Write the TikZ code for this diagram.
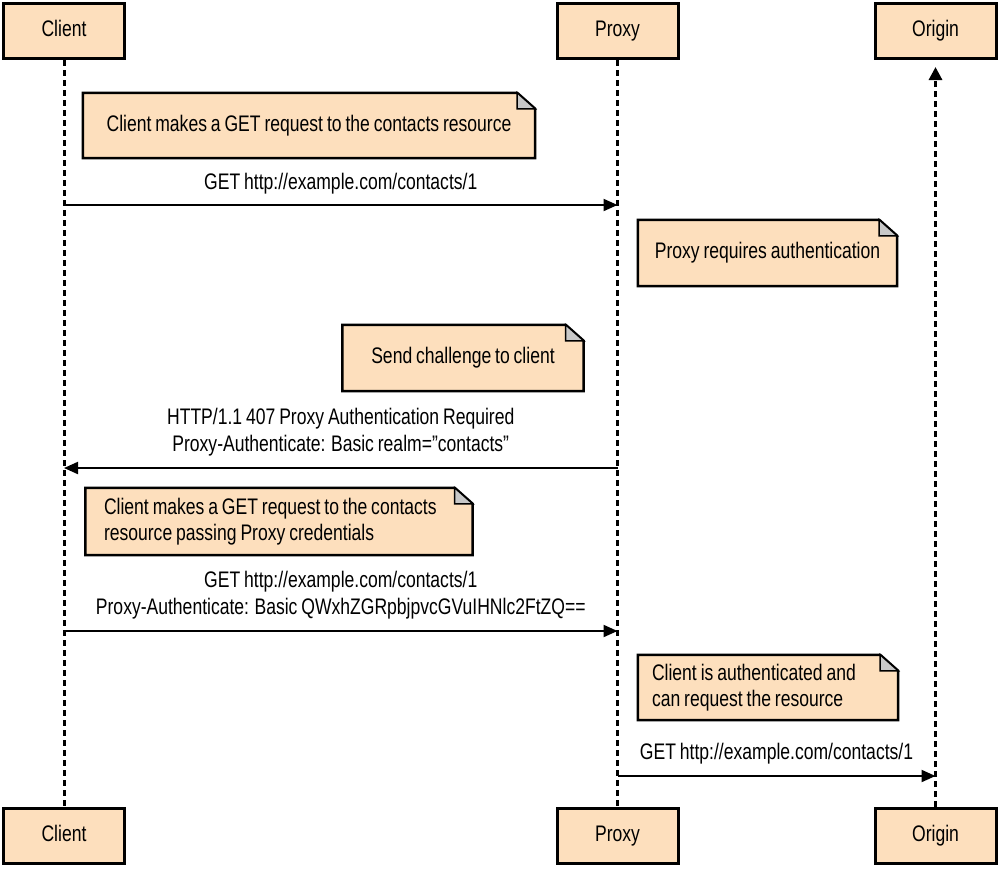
\documentclass[tikz,border=0pt]{standalone}
\usepackage{fontspec}
\setmainfont[FakeStretch=0.78,WordSpace=0.8]{Liberation Sans}
\usetikzlibrary{arrows.meta,backgrounds}
\definecolor{peach}{RGB}{253,223,189}
\definecolor{foldgrey}{RGB}{200,200,200}
\tikzset{
  actor/.style={draw=black, line width=3pt, fill=peach, minimum width=121pt, minimum height=55pt, inner sep=0pt, text height=16pt, text depth=5pt, font=\fontsize{22.5}{26}\selectfont},
  notebox/.style={inner sep=0pt, font=\fontsize{22.5}{26}\selectfont},
  life/.style={line width=3pt, dash pattern=on 6pt off 4pt},
  msg/.style={line width=2pt, -{Triangle[length=14pt,width=12pt]}},
  lbl/.style={font=\fontsize{22.5}{27}\selectfont, align=center, inner sep=0pt},
  noteline/.style={line width=2.5pt, fill=peach, line join=miter},
  foldline/.style={line width=1.5pt, fill=foldgrey, line join=miter},
}
\newcommand\drawnote[1]{%
  \draw[noteline] (#1.north west) -- ([xshift=-18pt]#1.north east) -- ([yshift=-16pt]#1.north east) -- (#1.south east) -- (#1.south west) -- cycle;
  \draw[foldline] ([xshift=-18pt]#1.north east) -- ([xshift=-18pt,yshift=-16pt]#1.north east) -- ([yshift=-16pt]#1.north east) -- cycle;
}
\begin{document}
\begin{tikzpicture}[x=1pt,y=-1pt]
\useasboundingbox (0,0) rectangle (1000,868);
% actors
\node[actor] (CT) at (64,31) {Client};
\node[actor] (PT) at (617.5,31) {Proxy};
\node[actor] (OT) at (935.5,31) {Origin};
\node[actor] (CB) at (64,836) {Client};
\node[actor] (PB) at (617.5,836) {Proxy};
\node[actor] (OB) at (935.5,836) {Origin};
% lifelines
\draw[life] (CT.south) -- (CB.north);
\draw[life] (PT.south) -- (PB.north);
\draw[life, -{Triangle[length=13pt,width=13pt]}, shorten >=7pt] (OB.north) -- (OT.south);
% notes
\node[notebox, minimum width=452pt, minimum height=65pt] (N1) at (309,125.5) {Client makes a GET request to the contacts resource};
\node[notebox, minimum width=259pt, minimum height=66pt] (N2) at (767.5,253) {Proxy requires authentication};
\node[notebox, minimum width=241pt, minimum height=66pt] (N3) at (463,358) {Send challenge to client};
\node[notebox, minimum width=387pt, minimum height=67pt, text width=350pt, align=flush left] (N4) at (279,521.5) {Client makes a GET request to the contacts\\resource passing Proxy credentials};
\node[notebox, minimum width=260pt, minimum height=65pt, text width=232pt, align=flush left] (N5) at (768,687.5) {Client is authenticated and\\can request the resource};
\begin{scope}[on background layer]
  \drawnote{N1}
  \drawnote{N2}
  \drawnote{N3}
  \drawnote{N4}
  \drawnote{N5}
\end{scope}
% messages
\draw[msg] (CT.south |- 0,205) -- (PT.south |- 0,205) node[midway, above=10pt, lbl] (L1) {GET http://example.com/contacts/1};
\draw[msg] (PT.south |- 0,468) -- (CT.south |- 0,468) node[midway, above=11pt, lbl] (L2) {HTTP/1.1 407 Proxy Authentication Required\\Proxy-Authenticate: Basic realm=”contacts”};
\draw[msg] (CT.south |- 0,631) -- (PT.south |- 0,631) node[midway, above=11pt, lbl] (L3) {GET http://example.com/contacts/1\\Proxy-Authenticate: Basic QWxhZGRpbjpvcGVuIHNlc2FtZQ==};
\draw[msg] (PT.south |- 0,776) -- (OT.south |- 0,776) node[midway, above=11pt, lbl] (L4) {GET http://example.com/contacts/1};
\end{tikzpicture}
\end{document}
